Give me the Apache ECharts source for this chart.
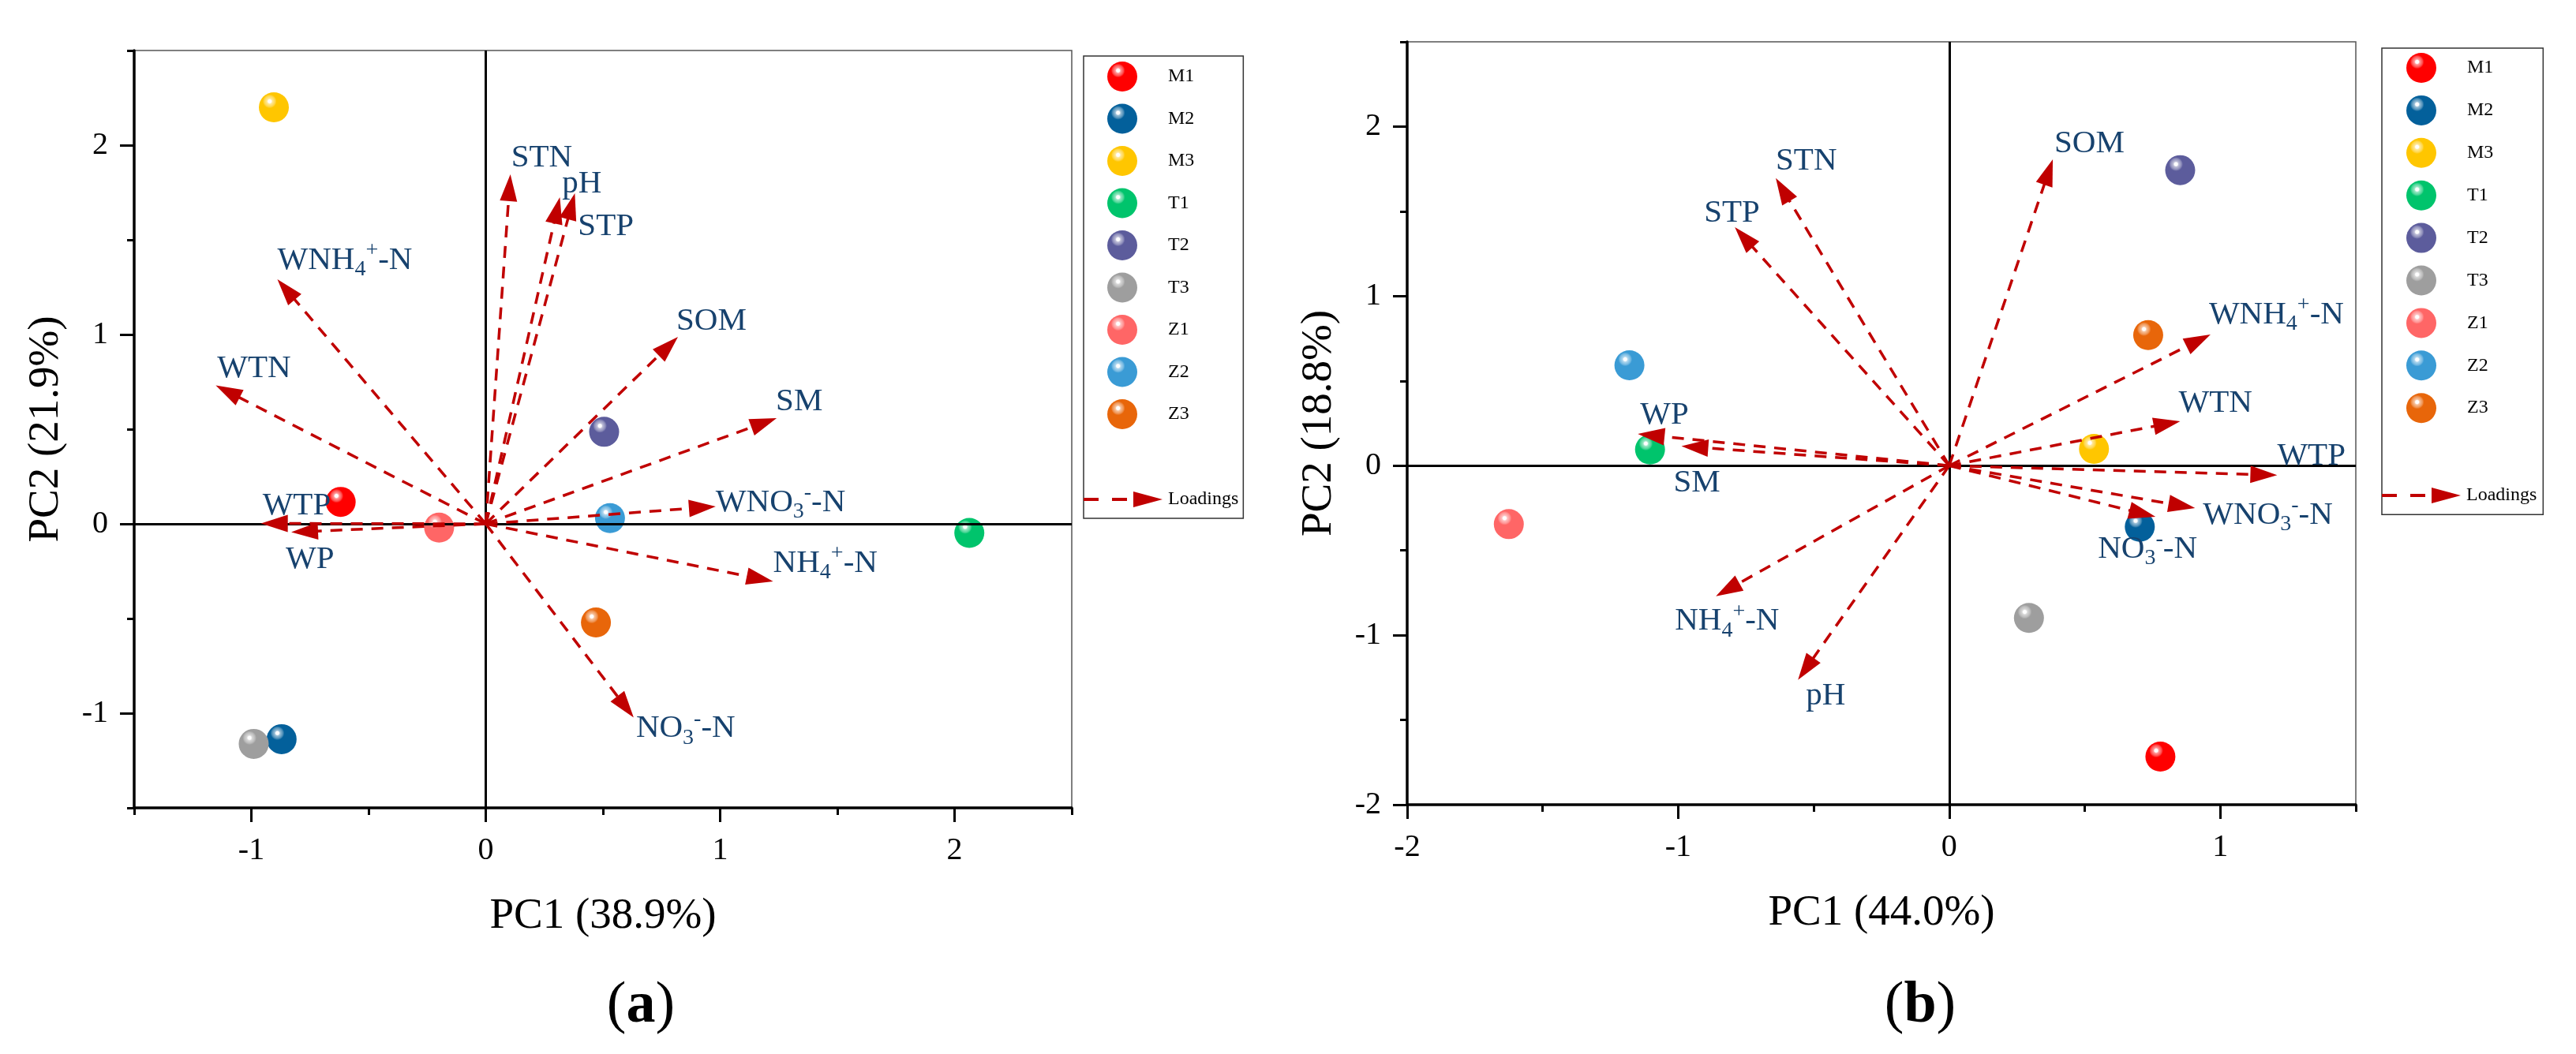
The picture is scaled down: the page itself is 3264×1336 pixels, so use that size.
<!DOCTYPE html>
<html>
<head>
<meta charset="utf-8">
<script src="https://cdn.jsdelivr.net/npm/echarts@6/dist/echarts.min.js"></script>
<style>
html,body{margin:0;padding:0;background:#ffffff;}
#chart{width:3264px;height:1336px;}
</style>
</head>
<body>
<div id="chart"></div>
<script>
// ---------------- data ----------------
const sampleNames = ['M1','M2','M3','T1','T2','T3','Z1','Z2','Z3'];
// panel (a) sample scores
const scoreA_PC1 = [-0.619, -0.871, -0.904, 2.063, 0.505, -0.990, -0.199, 0.530, 0.470];
const scoreA_PC2 = [ 0.116, -1.137,  2.200, -0.048, 0.486, -1.162, -0.020, 0.030, -0.521];
// panel (b) sample scores
const scoreB_PC1 = [ 0.779, 0.703, 0.534, -1.104, 0.852, 0.294, -1.625, -1.180, 0.734];
const scoreB_PC2 = [-1.716, -0.361, 0.099, 0.095, 1.743, -0.898, -0.345, 0.592, 0.770];

const loadingNames  = ['STN','pH','STP','WNH4+-N','WTN','WTP','WP','SOM','SM','WNO3--N','NH4+-N','NO3--N'];
const loadingLabels = ['STN','pH','STP','WNH{sub|4}{sup|+}-N','WTN','WTP','WP','SOM','SM','WNO{sub|3}{sup|-}-N','NH{sub|4}{sup|+}-N','NO{sub|3}{sup|-}-N'];
// panel (a) loadings
const loadA_PC1 = [0.105, 0.316, 0.380, -0.889, -1.152, -0.959, -0.830, 0.820, 1.241, 0.981, 1.226, 0.631];
const loadA_PC2 = [1.846, 1.725, 1.746,  1.292,  0.731,  0.002, -0.044, 0.988, 0.558, 0.092, -0.304, -1.023];
// panel (b) loadings
const loadB_PC1 = [-0.640, -0.558, -0.791, 0.964, 0.852, 1.210, -1.149, 0.382, -0.988, 0.907, -0.861, 0.761];
const loadB_PC2 = [ 1.696, -1.263,  1.406, 0.774, 0.262, -0.056, 0.187, 1.807, 0.115, -0.250, -0.770, -0.302];

const axisA = {xMin:-1.5, xMax:2.5, yMin:-1.5, yMax:2.5, xTitle:'PC1 (38.9%)', yTitle:'PC2 (21.9%)'};
const axisB = {xMin:-2,   xMax:1.5, yMin:-2,   yMax:2.5, xTitle:'PC1 (44.0%)', yTitle:'PC2 (18.8%)'};
const majorTicksAX = [-1, 0, 1, 2];
const majorTicksAY = [-1, 0, 1, 2];
const majorTicksBX = [-2, -1, 0, 1];
const majorTicksBY = [-2, -1, 0, 1, 2];
const panelLetters = ['a', 'b'];

// ---------------- styles ----------------
const SERIF = '"Liberation Serif", "Times New Roman", serif';
const RED = '#c00000';
const NAVY = '#17426e';
const sampleColors = ['#ff0000','#03609b','#ffc600','#00c46c','#5c5c9c','#9e9e9e','#ff6666','#3a9bd5','#e8660a'];

// label offsets (pixels, relative to arrow tip) — layout only
const labelOffA = {
  'STN':[1,-21], 'pH':[3,-17], 'STP':[4,42], 'WNH4+-N':[0,-24], 'WTN':[2,-21], 'WTP':[2,-22],
  'WP':[-7,35], 'SOM':[-2,-20], 'SM':[-1,-21], 'WNO3--N':[0,-5], 'NH4+-N':[0,-23], 'NO3--N':[3,14]
};
const labelOffB = {
  'STN':[0,-22], 'pH':[10,21], 'STP':[-39,-18], 'WNH4+-N':[-2,-25], 'WTN':[-2,-23], 'WTP':[0,-24],
  'WP':[3,-24], 'SOM':[2,-20], 'SM':[-10,47], 'WNO3--N':[10,9], 'NH4+-N':[-52,32], 'NO3--N':[-73,41]
};

function hexToRgb(h){ h=h.replace('#',''); return [parseInt(h.substr(0,2),16),parseInt(h.substr(2,2),16),parseInt(h.substr(4,2),16)]; }
function tint(h,t){ const c=hexToRgb(h).map(v=>Math.round(v+(255-v)*t)); return 'rgb('+c.join(',')+')'; }
function sphere(c){
  return {type:'radial', x:0.36, y:0.3, r:0.75, colorStops:[
    {offset:0, color:'#ffffff'},{offset:0.07, color:'#ffffff'},
    {offset:0.12, color:tint(c,0.6)},{offset:0.24, color:tint(c,0.3)},
    {offset:0.31, color:c},{offset:1, color:c}]};
}

const richStyle = {
  sub:{fontSize:28, fontFamily:SERIF, fill:NAVY, verticalAlign:'bottom', lineHeight:28},
  sup:{fontSize:28, fontFamily:SERIF, fill:NAVY, verticalAlign:'top', lineHeight:28}
};

function arrowRenderer(offsets){
  return function(params, api){
    const idx = params.dataIndex;
    const p0 = api.coord([0,0]);
    const p1 = api.coord([api.value(0), api.value(1)]);
    const dx = p1[0]-p0[0], dy = p1[1]-p0[1];
    const len = Math.sqrt(dx*dx+dy*dy) || 1;
    const ux = dx/len, uy = dy/len;
    const H = 34, W = 11;
    const bx = p1[0]-ux*H, by = p1[1]-uy*H;
    const off = offsets[loadingNames[idx]] || [0,-20];
    return {type:'group', children:[
      {type:'line', shape:{x1:p0[0], y1:p0[1], x2:bx+ux*2, y2:by+uy*2},
        style:{stroke:RED, lineWidth:3.5, lineDash:[15,11], fill:null}},
      {type:'polygon', shape:{points:[[p1[0],p1[1]],[bx-uy*W, by+ux*W],[bx+uy*W, by-ux*W]]},
        style:{fill:RED}},
      {type:'text', x:p1[0]+off[0], y:p1[1]+off[1],
        style:{text:loadingLabels[idx], fill:NAVY, fontSize:41, fontFamily:SERIF,
          align:'left', verticalAlign:'middle', lineHeight:52, rich:richStyle}}
    ]};
  };
}

function intLabel(v){ return Math.abs(v-Math.round(v))<1e-9 ? String(Math.round(v)) : ''; }

function mainX(gi, ax){
  return {type:'value', gridIndex:gi, position:'bottom', min:ax.xMin, max:ax.xMax, interval:0.5,
    name:ax.xTitle, nameLocation:'middle', nameGap:110,
    nameTextStyle:{fontFamily:SERIF, fontSize:55, color:'#000'},
    axisLine:{show:true, onZero:false, lineStyle:{color:'#000', width:3.5}},
    axisTick:{show:true, inside:false, length:9, lineStyle:{color:'#000', width:3}},
    axisLabel:{show:true, margin:34, fontFamily:SERIF, fontSize:40, color:'#000', formatter:intLabel},
    splitLine:{show:false}};
}
function tickX(gi, ax, ticks){
  return {type:'value', gridIndex:gi, position:'bottom', offset:0, min:ax.xMin, max:ax.xMax, interval:0.5,
    axisLine:{show:false, onZero:false},
    axisTick:{show:true, inside:false, length:18, customValues:ticks, lineStyle:{color:'#000', width:3}},
    axisLabel:{show:false}, splitLine:{show:false}};
}
function mainY(gi, ax){
  return {type:'value', gridIndex:gi, position:'left', min:ax.yMin, max:ax.yMax, interval:0.5,
    name:ax.yTitle, nameLocation:'middle', nameGap:84, nameRotate:90,
    nameTextStyle:{fontFamily:SERIF, fontSize:55, color:'#000'},
    axisLine:{show:true, onZero:false, lineStyle:{color:'#000', width:3.5}},
    axisTick:{show:true, inside:false, length:9, lineStyle:{color:'#000', width:3}},
    axisLabel:{show:true, margin:33, fontFamily:SERIF, fontSize:40, color:'#000', formatter:intLabel},
    splitLine:{show:false}};
}
function tickY(gi, ax, ticks){
  return {type:'value', gridIndex:gi, position:'left', offset:0, min:ax.yMin, max:ax.yMax, interval:0.5,
    axisLine:{show:false, onZero:false},
    axisTick:{show:true, inside:false, length:18, customValues:ticks, lineStyle:{color:'#000', width:3}},
    axisLabel:{show:false}, splitLine:{show:false}};
}

function panelSeries(xi, yi, pc1, pc2, l1, l2, offs){
  const s = [];
  s.push({type:'scatter', xAxisIndex:xi, yAxisIndex:yi, data:[[0,0]], symbolSize:0, silent:true, z:1,
    markLine:{silent:true, symbol:'none', animation:false, label:{show:false},
      lineStyle:{color:'#000', width:3, type:'solid'}, data:[{xAxis:0},{yAxis:0}]}});
  sampleNames.forEach((n,i)=>{
    s.push({type:'scatter', name:n, xAxisIndex:xi, yAxisIndex:yi, z:3,
      data:[[pc1[i], pc2[i]]], symbol:'circle', symbolSize:38,
      itemStyle:{color:sphere(sampleColors[i]), opacity:1}});
  });
  s.push({type:'custom', name:'Loadings', xAxisIndex:xi, yAxisIndex:yi, z:5,
    itemStyle:{color:RED},
    data:l1.map((v,i)=>[v, l2[i]]), encode:{x:0, y:1},
    renderItem:arrowRenderer(offs)});
  return s;
}

const LOAD_ICON = 'path://M0,8H19V12H0Z M36,8H55V12H36Z M63,0L100,10L63,20Z';

function sampleLegend(left, top, pad, gap){
  return {data:sampleNames, orient:'vertical', left:left, top:top, padding:pad,
    itemWidth:38, itemHeight:38, itemGap:gap, selectedMode:false,
    borderColor:'#333', borderWidth:1.5, backgroundColor:'#fff',
    textStyle:{fontFamily:SERIF, fontSize:24, color:'#000', padding:[0,0,0,34]}};
}
function loadLegend(left, top){
  return {data:['Loadings'], orient:'vertical', left:left, top:top, padding:0,
    itemWidth:100, itemHeight:20, icon:LOAD_ICON, selectedMode:false,
    textStyle:{fontFamily:SERIF, fontSize:24, color:'#000', padding:[0,0,0,2]}};
}

function panelTitle(x, letter){
  return {type:'text', x:x, y:1276, z:10,
    style:{text:'{p|(}{b|'+letter+'}{p|)}', align:'center', verticalAlign:'middle',
      rich:{p:{fontSize:74, fontFamily:SERIF, fill:'#000'},
            b:{fontSize:74, fontFamily:SERIF, fontWeight:'bold', fill:'#000'}}}};
}

const option = {
  backgroundColor:'#ffffff',
  animation:false,
  grid:[
    {left:170, top:64, width:1188, height:960, show:true, borderColor:'#555', borderWidth:1.5, backgroundColor:'transparent', containLabel:false, outerBoundsMode:'none'},
    {left:1783, top:53, width:1202, height:967, show:true, borderColor:'#555', borderWidth:1.5, backgroundColor:'transparent', containLabel:false, outerBoundsMode:'none'}
  ],
  xAxis:[mainX(0,axisA), tickX(0,axisA,majorTicksAX), mainX(1,axisB), tickX(1,axisB,majorTicksBX)],
  yAxis:[mainY(0,axisA), tickY(0,axisA,majorTicksAY), mainY(1,axisB), tickY(1,axisB,majorTicksBY)],
  legend:[
    sampleLegend(1373, 71, [7,62,113,30], 15.5),
    loadLegend(1373, 621),
    sampleLegend(3018, 61, [6,63,116,31], 15.9),
    loadLegend(3018, 616)
  ],
  graphic:[panelTitle(812, panelLetters[0]), panelTitle(2433, panelLetters[1])],
  series:[].concat(
    panelSeries(0, 0, scoreA_PC1, scoreA_PC2, loadA_PC1, loadA_PC2, labelOffA),
    panelSeries(2, 2, scoreB_PC1, scoreB_PC2, loadB_PC1, loadB_PC2, labelOffB)
  )
};

const chart = echarts.init(document.getElementById('chart'), null, {renderer:'canvas'});
chart.setOption(option);
</script>
</body>
</html>
